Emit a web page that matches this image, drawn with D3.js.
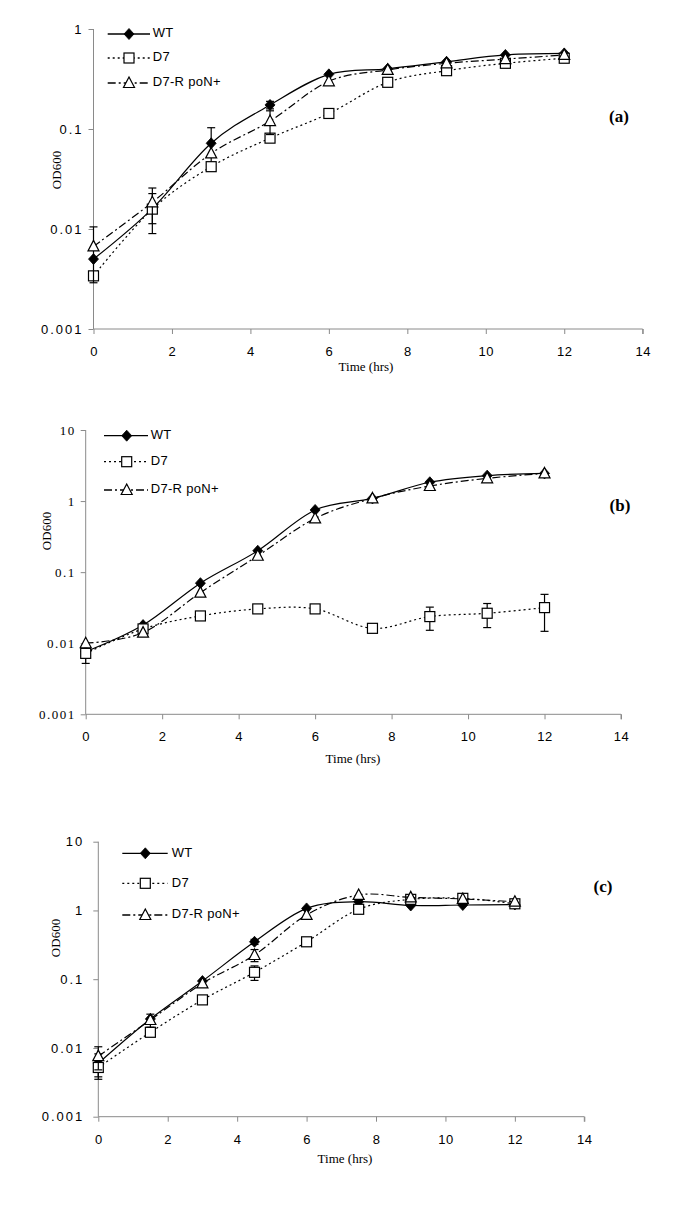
<!DOCTYPE html>
<html><head><meta charset="utf-8">
<script src="https://cdn.jsdelivr.net/npm/d3@7"></script>
<style>body{margin:0;background:#fff}svg{display:block}</style>
</head><body>
<svg id="c" width="685" height="1210"></svg>
<script>
// ---- data ----
const time = [0, 1.5, 3, 4.5, 6, 7.5, 9, 10.5, 12];
const seriesNames = ["WT", "D7", "D7-R poN+"];
const xTicks = [0, 2, 4, 6, 8, 10, 12, 14];
const yTicksA = [0.001, 0.01, 0.1, 1];
const yTicksBC = [0.001, 0.01, 0.1, 1, 10];
const yTickLabels = {0.001: "0.001", 0.01: "0.01", 0.1: "0.1", 1: "1", 10: "10"};
const panelLabels = ["(a)", "(b)", "(c)"];

// panel (a)
const aWT   = [0.0050, 0.016, 0.072, 0.174, 0.352, 0.40, 0.47, 0.55, 0.57];
const aD7   = [0.0034, 0.0158, 0.042, 0.081, 0.143, 0.293, 0.383, 0.454, 0.51];
const aRpoN = [0.0067, 0.0185, 0.057, 0.12, 0.30, 0.39, 0.454, 0.50, 0.55];
const aWTerr   = [0, 0, 0.031, 0.015, 0, 0, 0, 0, 0];
const aD7err   = [0, 0.0068, 0, 0, 0, 0, 0, 0, 0];
const aRpoNerr = [0.0038, 0.0072, 0, 0.032, 0, 0, 0, 0, 0];

// panel (b)
const bWT   = [0.0076, 0.018, 0.070, 0.20, 0.75, 1.09, 1.84, 2.28, 2.45];
const bD7   = [0.0072, 0.0159, 0.0242, 0.0304, 0.0304, 0.0162, 0.0237, 0.0264, 0.0317];
const bRpoN = [0.0100, 0.0141, 0.0515, 0.17, 0.57, 1.09, 1.63, 2.09, 2.45];
const bWTerr   = [0, 0, 0, 0, 0, 0, 0, 0, 0];
const bD7err   = [0.002, 0, 0, 0, 0, 0, 0.0085, 0.0098, 0.017];
const bRpoNerr = [0, 0, 0, 0, 0, 0, 0, 0, 0];

// panel (c)
const cWT   = [0.0060, 0.0264, 0.094, 0.35, 1.07, 1.34, 1.18, 1.2, 1.22];
const cD7   = [0.0052, 0.0169, 0.050, 0.126, 0.35, 1.04, 1.45, 1.5, 1.25];
const cRpoN = [0.0076, 0.0255, 0.087, 0.225, 0.86, 1.68, 1.55, 1.47, 1.34];
const cWTerr   = [0.0022, 0, 0, 0.03, 0, 0, 0, 0, 0];
const cD7err   = [0.0017, 0, 0, 0.03, 0, 0, 0, 0, 0];
const cRpoNerr = [0.0028, 0.0055, 0, 0.045, 0, 0, 0, 0, 0];

// ---- layout ----
const SANS = "'Liberation Sans', Arial, sans-serif";
const SERIF = "'Liberation Serif', 'Times New Roman', serif";
const AXIS_COLOR = "#8a8a8a";

const panels = [
  {vals:[aWT,aD7,aRpoN], errs:[aWTerr,aD7err,aRpoNerr], yTicks:yTicksA, yMax:1,
   x0:93.5, x1:642.7, yTop:29, yBot:329, yFont:SANS, yLabOff:10,
   leg:{l1:107.7,l2:150,m:129,t:152.7,ys:[34,58,83]},
   lab:[619,118], od:[58,170], tm:[366,368]},
  {vals:[bWT,bD7,bRpoN], errs:[bWTerr,bD7err,bRpoNerr], yTicks:yTicksBC, yMax:10,
   x0:85.7, x1:621, yTop:430, yBot:714.3, yFont:SERIF, yLabOff:10,
   leg:{l1:104,l2:148,m:126.7,t:150.7,ys:[435.7,461.7,490]},
   lab:[620,507], od:[48,531], tm:[353,760]},
  {vals:[cWT,cD7,cRpoN], errs:[cWTerr,cD7err,cRpoNerr], yTicks:yTicksBC, yMax:10,
   x0:98.3, x1:584.3, yTop:841.7, yBot:1116.7, yFont:SANS, yLabOff:14,
   leg:{l1:122.3,l2:167.7,m:145.3,t:171.7,ys:[853.3,883.3,915]},
   lab:[603,888], od:[57,938], tm:[345,1160]}
];

const dashes = [null, "2,3", "8,3,2,3"];
const svg = d3.select("#c");

function drawMarker(g, kind, x, y) {
  if (kind === 0) {
    g.append("path").attr("d", `M${x},${y-5.5}L${x+5},${y}L${x},${y+5.5}L${x-5},${y}Z`)
      .attr("fill", "#000").attr("stroke", "#000").attr("stroke-width", 0.8);
  } else if (kind === 1) {
    g.append("rect").attr("x", x-5).attr("y", y-5).attr("width", 10).attr("height", 10)
      .attr("fill", "#fff").attr("stroke", "#000").attr("stroke-width", 1.2);
  } else {
    g.append("path").attr("d", `M${x},${y-6}L${x+5.5},${y+4.5}L${x-5.5},${y+4.5}Z`)
      .attr("fill", "#fff").attr("stroke", "#000").attr("stroke-width", 1.2);
  }
}

panels.forEach((p, pi) => {
  const g = svg.append("g");
  const x = d3.scaleLinear().domain([0, 14]).range([p.x0, p.x1]);
  const y = d3.scaleLog().domain([0.001, p.yMax]).range([p.yBot, p.yTop]);

  // axes
  const xAxis = d3.axisBottom(x).tickValues(xTicks).tickSize(5).tickFormat(d3.format("d"));
  const gx = g.append("g").attr("transform", `translate(0,${p.yBot})`).call(xAxis);
  gx.select(".domain").attr("stroke", AXIS_COLOR).attr("d", `M${p.x0},0H${p.x1}V5`);
  gx.selectAll(".tick line").attr("stroke", AXIS_COLOR);
  gx.selectAll(".tick text").attr("font-family", SANS).attr("font-size", 13)
    .attr("fill", "#000").attr("dy", 0).attr("y", 27).attr("letter-spacing", 0.5);

  const yAxis = d3.axisLeft(y).tickValues(p.yTicks).tickSize(5).tickFormat(d => yTickLabels[d]);
  const gy = g.append("g").attr("transform", `translate(${p.x0},0)`).call(yAxis);
  gy.select(".domain").attr("stroke", AXIS_COLOR).attr("d", `M0,${p.yTop}V${p.yBot}`);
  gy.selectAll(".tick line").attr("stroke", AXIS_COLOR);
  gy.selectAll(".tick text").attr("font-family", p.yFont).attr("font-size", 13)
    .attr("fill", "#000").attr("x", -p.yLabOff).attr("letter-spacing", p.yFont === SANS ? 2 : 1.5);

  // axis titles
  g.append("text").attr("transform", `translate(${p.od[0]},${p.od[1]}) rotate(-90)`)
    .attr("text-anchor", "middle").attr("dominant-baseline", "middle")
    .attr("font-family", SERIF).attr("font-size", 13).text("OD600");
  g.append("text").attr("x", p.tm[0]).attr("y", p.tm[1]).attr("text-anchor", "middle")
    .attr("dominant-baseline", "middle").attr("font-family", SERIF).attr("font-size", 13)
    .text("Time (hrs)");
  g.append("text").attr("x", p.lab[0]).attr("y", p.lab[1]).attr("text-anchor", "middle")
    .attr("dominant-baseline", "middle").attr("font-family", SERIF).attr("font-size", 17)
    .attr("font-weight", "bold").text(panelLabels[pi]);

  const line = d3.line().x(d => x(d[0])).y(d => y(d[1])).curve(d3.curveCardinal.tension(0));

  p.vals.forEach((vals, si) => {
    const pts = time.map((t, i) => [t, vals[i]]);
    const sg = g.append("g");
    sg.append("path").attr("d", line(pts)).attr("fill", "none").attr("stroke", "#000")
      .attr("stroke-width", 1.2).attr("stroke-dasharray", dashes[si]);
    // error bars
    const errs = p.errs[si];
    time.forEach((t, i) => {
      const e = errs[i];
      if (!e) return;
      const cx = x(t), yt = y(vals[i] + e), yb = y(Math.max(vals[i] - e, 0.0011));
      sg.append("line").attr("x1", cx).attr("x2", cx).attr("y1", yt).attr("y2", yb)
        .attr("stroke", "#000").attr("stroke-width", 1.2);
      [yt, yb].forEach(yy => sg.append("line").attr("x1", cx-4).attr("x2", cx+4)
        .attr("y1", yy).attr("y2", yy).attr("stroke", "#000").attr("stroke-width", 1.2));
    });
    pts.forEach(d => drawMarker(sg, si, x(d[0]), y(d[1])));
  });

  // legend
  seriesNames.forEach((name, si) => {
    const ly = p.leg.ys[si];
    g.append("line").attr("x1", p.leg.l1).attr("x2", p.leg.l2).attr("y1", ly).attr("y2", ly)
      .attr("stroke", "#000").attr("stroke-width", 1.3).attr("stroke-dasharray", dashes[si]);
    drawMarker(g, si, p.leg.m, ly);
    g.append("text").attr("x", p.leg.t).attr("y", ly).attr("dominant-baseline", "middle")
      .attr("font-family", SANS).attr("font-size", 13).attr("letter-spacing", 0.3).text(name);
  });
});
</script>
</body></html>
